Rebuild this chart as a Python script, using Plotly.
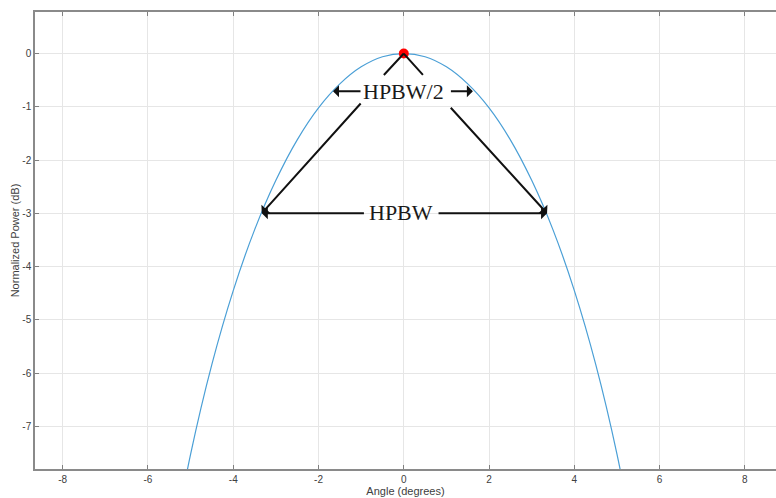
import plotly.graph_objects as go

# Curve (angle in degrees, normalized power in dB)
angle_deg = [-5.5, -5.0, -4.5, -4.0, -3.5, -3.0, -2.5, -2.0, -1.5, -1.0, -0.5, 0.0,
             0.5, 1.0, 1.5, 2.0, 2.5, 3.0, 3.5, 4.0, 4.5, 5.0, 5.5]
power_db = [-9.62, -7.52, -5.83, -4.45, -3.31, -2.38, -1.62, -1.02, -0.57, -0.25, -0.06, 0.0,
            -0.06, -0.25, -0.57, -1.02, -1.62, -2.38, -3.31, -4.45, -5.83, -7.52, -9.62]

peak_x = [0.0]
peak_y = [0.0]

x_ticks = [-8, -6, -4, -2, 0, 2, 4, 6, 8]
x_ticklabels = ["-8", "-6", "-4", "-2", "0", "2", "4", "6", "8"]
y_ticks = [0, -1, -2, -3, -4, -5, -6, -7]
y_ticklabels = ["0", "-1", "-2", "-3", "-4", "-5", "-6", "-7"]

# annotation anchor points (data units)
hpbw_half_db = -0.707
hpbw_half_left, hpbw_half_right = -1.66, 1.62
hpbw_db = -3.0
hpbw_left, hpbw_right = -3.33, 3.36

fig = go.Figure()
fig.add_trace(go.Scatter(x=angle_deg, y=power_db, mode="lines",
                         line=dict(color="#4a9fd6", width=1.2, shape="spline"),
                         hoverinfo="skip", showlegend=False))
fig.add_trace(go.Scatter(x=peak_x, y=peak_y, mode="markers",
                         marker=dict(color="#ff0000", size=10), showlegend=False,
                         cliponaxis=False))

serif = dict(family="Liberation Serif, Times New Roman, serif", size=22, color="#1a1a1a")
ann = []
def arrow(tx, ty, hx, hy, head=1):
    ann.append(dict(x=hx, y=hy, ax=tx, ay=ty, xref="x", yref="y", axref="x", ayref="y",
                    showarrow=True, arrowhead=head, arrowsize=1.0, arrowwidth=2,
                    arrowcolor="#111111", text=""))

# HPBW/2 label and arrows
ann.append(dict(x=0.0, y=-0.72, xref="x", yref="y", text="HPBW/2", showarrow=False, font=serif))
arrow(-0.98, hpbw_half_db, hpbw_half_left, hpbw_half_db)
arrow(1.07, hpbw_half_db, hpbw_half_right, hpbw_half_db)
# lines to the peak
arrow(-0.50, -0.43, 0.0, 0.0, head=0)
arrow(0.48, -0.43, 0.0, 0.0, head=0)
# lines down to the -3 dB points
arrow(-0.98, -0.91, hpbw_left, hpbw_db)
arrow(1.07, -0.99, hpbw_right, hpbw_db)
# HPBW label and arrows
ann.append(dict(x=-0.07, y=-2.99, xref="x", yref="y", text="HPBW", showarrow=False, font=serif))
arrow(-0.90, hpbw_db, hpbw_left, hpbw_db)
arrow(0.78, hpbw_db, hpbw_right, hpbw_db)

tickfont = dict(family="Liberation Sans, Arial, sans-serif", size=10, color="#404040")
fig.update_layout(
    width=776, height=498,
    margin=dict(l=35, r=0, t=12, b=29),
    paper_bgcolor="white", plot_bgcolor="white",
    annotations=ann,
    xaxis=dict(range=[-8.65, 8.73], tickvals=x_ticks, ticktext=x_ticklabels,
               ticks="inside", ticklen=4,
               tickcolor="#808080", showline=True, linecolor="#8a8a8a", linewidth=1.5,
               mirror="ticks", showgrid=True, gridcolor="#e6e6e6", zeroline=False,
               tickfont=tickfont,
               title=dict(text="Angle (degrees)", font=dict(family="Liberation Sans, Arial", size=11, color="#404040"), standoff=2)),
    yaxis=dict(range=[-7.8, 0.78], tickvals=y_ticks, ticktext=y_ticklabels,
               ticks="inside", ticklen=4,
               tickcolor="#808080", showline=True, linecolor="#8a8a8a", linewidth=1.5,
               showgrid=True, gridcolor="#e6e6e6", zeroline=False,
               tickfont=tickfont,
               title=dict(text="Normalized Power (dB)", font=dict(family="Liberation Sans, Arial", size=11, color="#404040"), standoff=0)),
)
fig.write_html("out.html", config={"displayModeBar": False},
               post_script="document.body.style.margin='0px';document.body.style.overflow='hidden';")
